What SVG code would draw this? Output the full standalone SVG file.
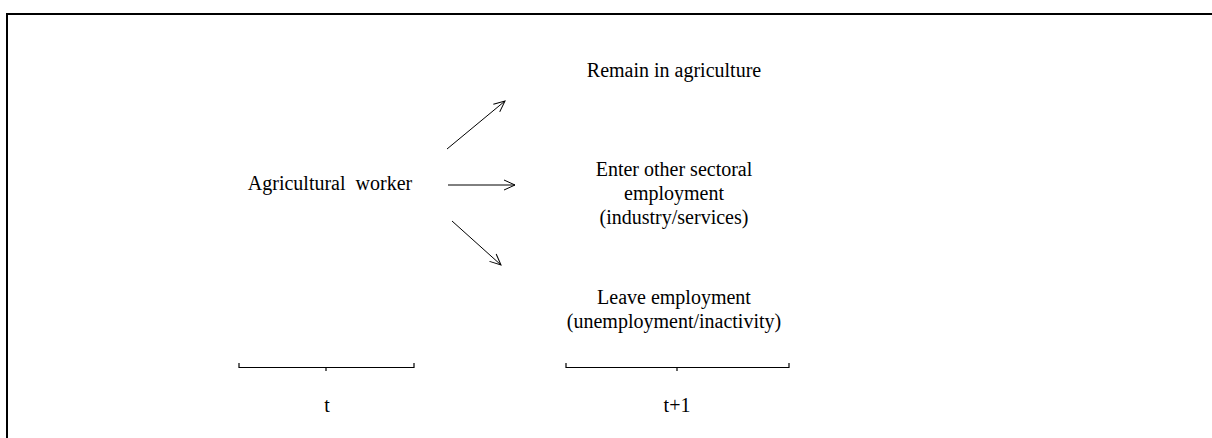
<svg xmlns="http://www.w3.org/2000/svg" width="1212" height="438" viewBox="0 0 1212 438">
<defs>
<style>
text{font-family:"Liberation Serif","Times New Roman",serif;font-size:20px;fill:#000;text-anchor:middle}
.ln{stroke:#000;stroke-width:1;fill:none}
.br{stroke:#000;stroke-width:1.2;fill:none}
</style>
<marker id="ah" markerWidth="14" markerHeight="12" refX="12" refY="6" orient="auto" markerUnits="userSpaceOnUse">
<path d="M1,1 L12,6 L1,11" fill="none" stroke="#000" stroke-width="1"/>
</marker>
</defs>
<rect width="1212" height="438" fill="#fff"/>
<rect x="7" y="14" width="1220" height="440" fill="none" stroke="#000" stroke-width="2"/>
<g id="agri"><text x="330" y="190" xml:space="preserve">Agricultural  worker</text></g>
<g id="remain"><text x="674" y="77">Remain in agriculture</text></g>
<g id="enter"><text x="674" y="176">Enter other sectoral</text><text x="674" y="200">employment</text><text x="674" y="224">(industry/services)</text></g>
<g id="leave"><text x="674" y="304">Leave employment</text><text x="674" y="328">(unemployment/inactivity)</text></g>
<g id="connectors">
<line class="ln" x1="447" y1="149" x2="505" y2="101" marker-end="url(#ah)"/>
<line class="ln" x1="448" y1="185" x2="515" y2="185" marker-end="url(#ah)"/>
<line class="ln" x1="452" y1="221" x2="501" y2="265" marker-end="url(#ah)"/>
</g>
<g id="bracket-t">
<path class="br" d="M239,363 V367.5 H414 V363 M326,367.5 V371"/>
<text x="327" y="412">t</text>
</g>
<g id="bracket-t1">
<path class="br" d="M566,363 V367.5 H789 V363 M677,367.5 V371"/>
<text x="677" y="412">t+1</text>
</g>
</svg>
